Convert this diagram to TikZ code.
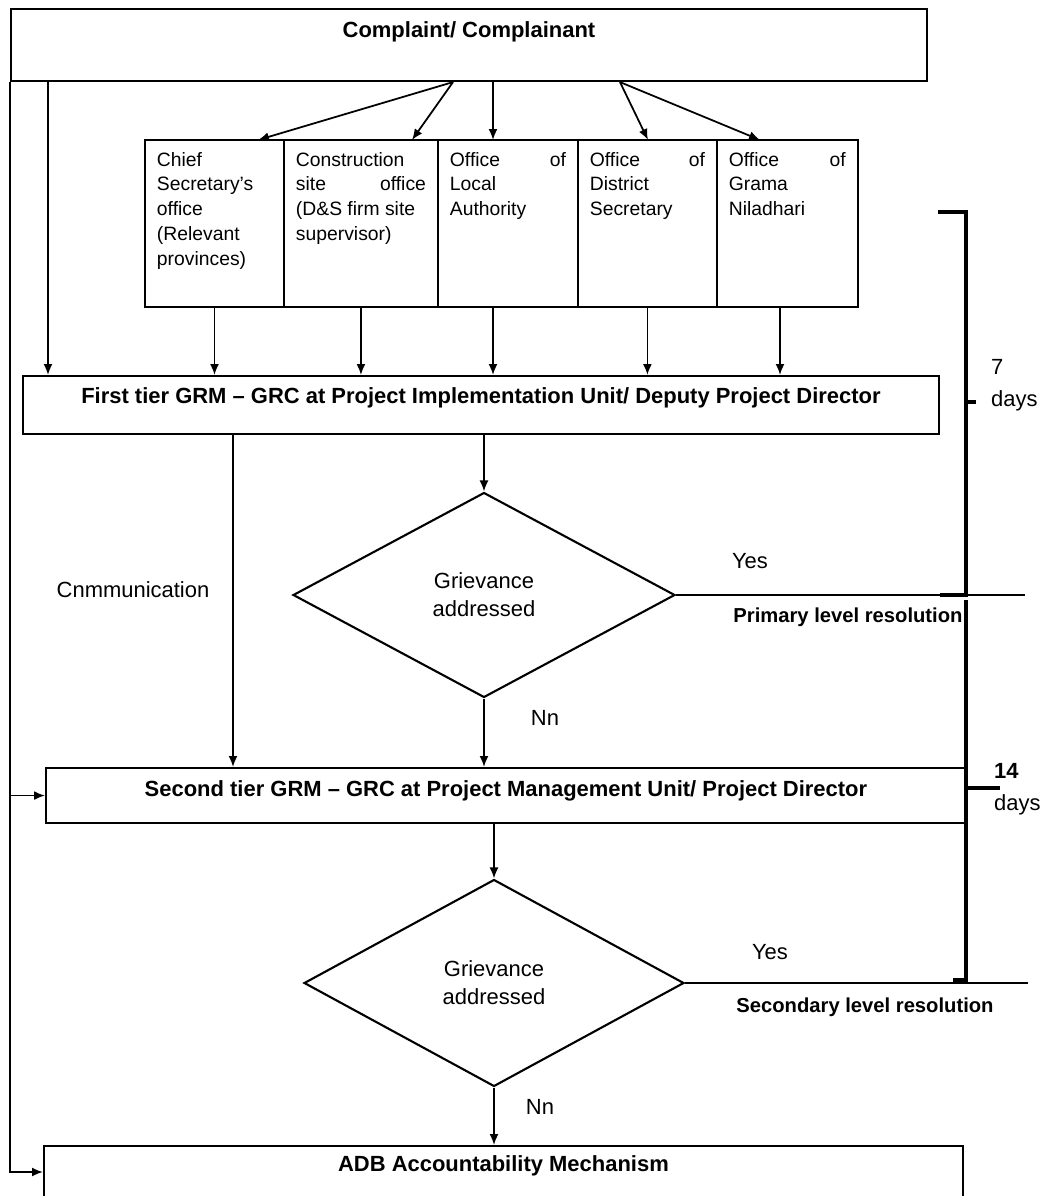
\documentclass[tikz,border=0pt]{standalone}
\usepackage{fontspec}
\setmainfont{Liberation Sans}
\usetikzlibrary{arrows.meta,positioning,shapes.geometric}

\def\boxfont{\fontsize{12.5}{15}\selectfont\bfseries}
\def\textfont{\fontsize{12.5}{16}\selectfont}
\def\officefont{\fontsize{11}{14.2}\selectfont}
\newcommand{\officetext}[2]{\parbox[t][2.86cm][t]{#1}{#2}}
\colorlet{line edge}{black}
\tikzset{tierbox/.style={draw=line edge, line width=1.2pt, inner sep=0pt, anchor=north west},
    office/.style={draw=line edge, line width=1pt, inner sep=0.24cm, outer sep=0pt, anchor=north west, font=\officefont},
    decision/.style={diamond, draw=line edge, line width=1.2pt, inner sep=0pt, align=center, font=\textfont},
    arr/.style={-{Latex[length=2.2mm,width=1.8mm]}, line width=1pt},
    bracket/.style={line width=1.8pt},
    note/.style={font=\textfont}}

\begin{document}
\begin{tikzpicture}[x=0.02cm, y=-0.02cm]
     \useasboundingbox (0,0) rectangle (1041,1196);
     \node[tierbox, minimum width=18.32cm, text height=0.56cm, text depth=0.88cm, font=\boxfont]
          (comp) at (10,8) {Complaint/ Complainant};
     % offices
     \node[office] (chief) at (145,140)
          {\officetext{2.30cm}{Chief\\Secretary's\\office\\(Relevant\\provinces)}};
     \node[office, right=0pt of chief] (site)
          {\officetext{2.60cm}{Construction\\site \hfill office\\(D\&S firm site\\supervisor)}};
     \node[office, right=0pt of site] (local)
          {\officetext{2.32cm}{Office \hfill of\\Local\\Authority}};
     \node[office, right=0pt of local] (district)
          {\officetext{2.30cm}{Office \hfill of\\District\\Secretary}};
     \node[office, right=0pt of district] (grama)
          {\officetext{2.34cm}{Office \hfill of\\Grama\\Niladhari}};
     \node[tierbox, minimum width=18.32cm, text height=0.54cm, text depth=0.62cm, font=\boxfont]
          (first) at (22,375) {First tier GRM -- GRC at Project Implementation Unit/ Deputy Project Director};
     \node[decision, minimum width=7.64cm, minimum height=4.1cm] (dia1) at (484,595) {Grievance\\addressed};
     \node[tierbox, minimum width=18.4cm, text height=0.56cm, text depth=0.54cm, font=\boxfont]
          (second) at (45,767) {Second tier GRM -- GRC at Project Management Unit/ Project Director};
     \node[decision, minimum width=7.6cm, minimum height=4.14cm] (dia2) at (494,983) {Grievance\\addressed};
     \node[tierbox, minimum width=18.38cm, text height=0.5cm, text depth=0.7cm, font=\boxfont]
          (adb) at (43,1145) {ADB Accountability Mechanism};

     \draw[arr] (comp.south -| 453,0) -- (chief.north -| 258,0);
     \draw[arr] (comp.south -| 453,0) -- (site.north -| 412,0);
     \draw[arr] (comp.south -| 493,0) -- (local.north -| 493,0);
     \draw[arr] (comp.south -| 620,0) -- (district.north -| 648,0);
     \draw[arr] (comp.south -| 620,0) -- (grama.north -| 760,0);

     \draw[arr] (comp.south -| 48,0) -- (first.north -| 48,0);
     \draw[arr] (chief.south) -- (first.north -| chief.south);
     \draw[arr] (site.south) -- (first.north -| site.south);
     \draw[arr] (local.south -| 493,0) -- (first.north -| 493,0);
     \draw[arr] (district.south) -- (first.north -| district.south);
     \draw[arr] (grama.south -| 780,0) -- (first.north -| 780,0);

     \draw[arr] (first.south -| 233,0) -- (second.north -| 233,0);
     \draw[arr] (first.south -| dia1.north) -- (dia1.north);
     \draw[arr] (dia1.south) -- (second.north -| dia1.south);
     \draw[line width=1pt] (dia1.east) -- (dia1.east -| 1025,0);
     \draw[arr] (second.south -| dia2.north) -- (dia2.north);
     \draw[arr] (dia2.south) -- (adb.north -| dia2.south);
     \draw[line width=1pt] (dia2.east) -- (dia2.east -| 1028,0);

     \draw[arr] (comp.south west) |- ([yshift=-0.54cm]adb.north west);
     \draw[arr] (comp.south west |- second.west) -- (second.west);

     \node[note] (comm) at (133,590) {Cnmmunication};
     \node[note] (yes1) at (750,561) {Yes};
     \node[note, font=\fontsize{11.5}{14}\selectfont\bfseries] (prim) at (848,617) {Primary level resolution};
     \node[note] (no1) at (545,718) {Nn};
     \node[note] (yes2) at (770,952) {Yes};
     \node[note, font=\fontsize{11.5}{14}\selectfont\bfseries] (secd) at (865,1007) {Secondary level resolution};
     \node[note] (no2) at (540,1107) {Nn};

     % time brackets
     \draw[bracket] (938,212) -- (966,212) -- (966,595) -- (940,595);
     \draw[bracket] (966,402) -- (976,402);
     \draw[bracket] (966,600) -- (966,980) -- (953,980);
     \draw[bracket] (966,788) -- (1000,788);
     \node[note, align=left, anchor=west, font=\fontsize{12.5}{18}\selectfont] (week) at (985,385) {7\\days};
     \node[note, align=left, anchor=west, font=\fontsize{12.5}{18}\selectfont] (fortnight) at (988,789) {\textbf{14}\\days};
 \end{tikzpicture}
\end{document}
